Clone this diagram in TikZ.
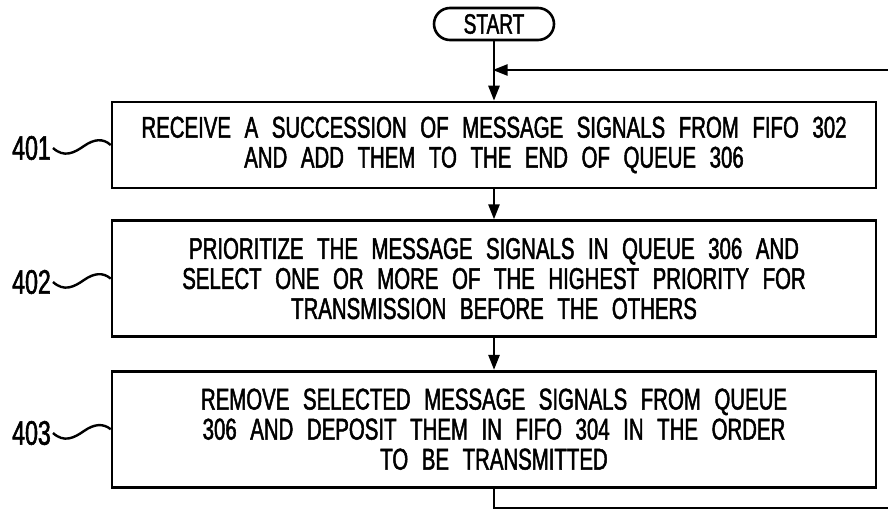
\documentclass[tikz,border=0pt]{standalone}
\usepackage{fontspec}
\setmainfont{Liberation Sans}[FakeStretch=0.68,WordSpace=2.4,FakeBold=1.6]
\usetikzlibrary{positioning}
\usetikzlibrary{arrows.meta}
\tikzset{basic/.style={draw,line width=2.6pt,align=center,font=\fontsize{30}{30}\selectfont}}
\tikzset{stepbox/.style={basic,rectangle,minimum width=764pt,inner sep=0pt}}
\tikzset{terminal/.style={basic,rounded corners=16pt,minimum width=120pt,minimum height=32pt,inner sep=0pt,font=\fontsize{28}{28}\selectfont}}
\tikzset{flow/.style={draw,line width=2.6pt,-{Triangle[length=15pt,width=11pt]}}}
\tikzset{reflabel/.style={anchor=east,inner sep=2pt,font=\fontsize{34}{34}\selectfont}}
\tikzset{squiggle/.style={draw,line width=2.4pt}}

\begin{document}
\begin{tikzpicture}[x=1pt,y=-1pt]
    \useasboundingbox (0,0) rectangle (888,514);
    \node[terminal] (start) at (494,24) {START};
    \node[stepbox,minimum height=86pt] (receive) at (494,145)
        {RECEIVE A SUCCESSION OF MESSAGE SIGNALS FROM FIFO 302\\AND ADD THEM TO THE END OF QUEUE 306};
        \path[flow] (start) -- (receive);
    \node[stepbox,minimum height=116pt,below=30pt of receive] (prioritize)
        {PRIORITIZE THE MESSAGE SIGNALS IN QUEUE 306 AND\\SELECT ONE OR MORE OF THE HIGHEST PRIORITY FOR\\TRANSMISSION BEFORE THE OTHERS};
        \path[flow] (receive) -- (prioritize);
    \node[stepbox,minimum height=116pt,below=32pt of prioritize] (remove)
        {REMOVE SELECTED MESSAGE SIGNALS FROM QUEUE\\306 AND DEPOSIT THEM IN FIFO 304 IN THE ORDER\\TO BE TRANSMITTED};
        \path[flow] (prioritize) -- (remove);

    % loop back to the top
    \coordinate (loopout) at (888,508);
    \coordinate (loopin) at (888,70);
    \draw[line width=2.6pt] (remove) -- (remove.south |- loopout) -- (loopout);
    \path[flow,shorten >=-1.3pt] (loopin) -- (start.south |- loopin);

    % reference numerals
    \node[reflabel] (n401) at (53,148) {401};
        \path[squiggle] (n401.east) .. controls (64,158) and (74,153) .. (84,146)
            .. controls (94,139) and (103,138) .. (receive.west);
    \node[reflabel] (n402) at (53,282) {402};
        \path[squiggle] (n402.east) .. controls (64,292) and (74,287) .. (84,280)
            .. controls (94,273) and (103,272) .. (prioritize.west);
    \node[reflabel] (n403) at (53,433) {403};
        \path[squiggle] (n403.east) .. controls (64,443) and (74,438) .. (84,431)
            .. controls (94,424) and (103,423) .. (remove.west);
\end{tikzpicture}
\end{document}
